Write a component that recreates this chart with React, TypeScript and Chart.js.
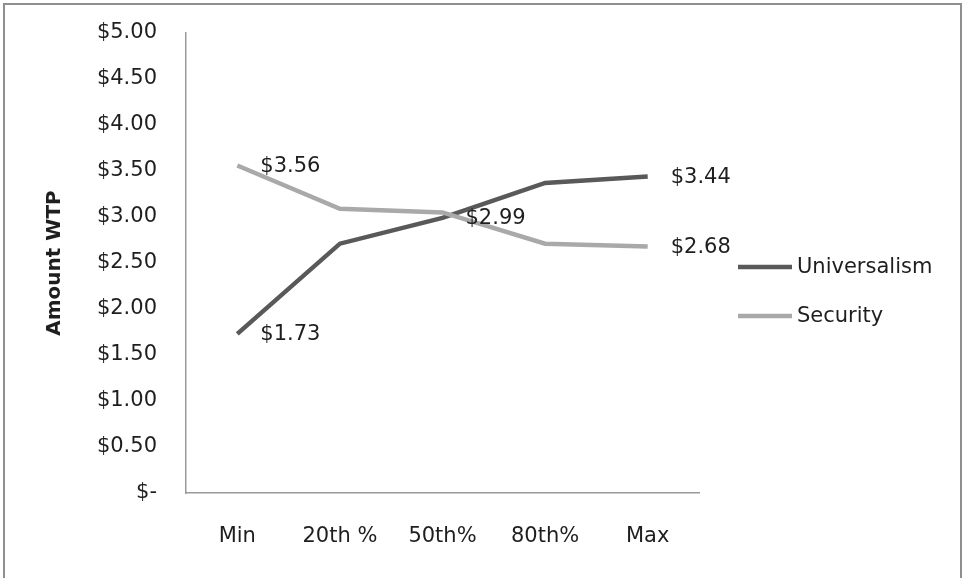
import React, { useEffect, useRef } from "react";
import { Chart, registerables } from "chart.js";

Chart.register(...registerables);

const categories = ["Min", "20th %", "50th%", "80th%", "Max"];
const universalism = [1.73, 2.71, 2.99, 3.37, 3.44];
const security = [3.56, 3.09, 3.05, 2.71, 2.68];
const universalismLabels = ["$1.73", "", "$2.99", "", "$3.44"];
const securityLabels = ["$3.56", "", "", "", "$2.68"];
const yTickLabels = ["$-", "$0.50", "$1.00", "$1.50", "$2.00", "$2.50", "$3.00", "$3.50", "$4.00", "$4.50", "$5.00"];
const seriesNames = ["Universalism", "Security"];

const DARK = "#595959";
const LIGHT = "#a9a9a9";
const TEXT = "#1e1e1e";
const FONT = "'DejaVu Sans', sans-serif";
const SIZE = 21;

const labelPlugin = {
  id: "pointLabels",
  afterDatasetsDraw(chart: any) {
    const ctx = chart.ctx;
    const sets = [universalismLabels, securityLabels];
    ctx.save();
    ctx.font = `${SIZE}px ${FONT}`;
    ctx.fillStyle = TEXT;
    ctx.textAlign = "left";
    ctx.textBaseline = "middle";
    sets.forEach((labels, di) => {
      const meta = chart.getDatasetMeta(di);
      labels.forEach((t, i) => {
        if (!t) return;
        const el = meta.data[i];
        ctx.fillText(t, el.x + 23, el.y + 1);
      });
    });
    ctx.restore();
  },
};

const legendPlugin = {
  id: "customLegend",
  afterDraw(chart: any) {
    const ctx = chart.ctx;
    const area = chart.chartArea;
    const x0 = area.right + 39;
    const colors = [DARK, LIGHT];
    const ys = [267, 316];
    ctx.save();
    seriesNames.forEach((name, i) => {
      ctx.strokeStyle = colors[i];
      ctx.lineWidth = 4.5;
      ctx.lineCap = "butt";
      ctx.beginPath();
      ctx.moveTo(x0, ys[i]);
      ctx.lineTo(x0 + 54, ys[i]);
      ctx.stroke();
      ctx.font = `${SIZE}px ${FONT}`;
      ctx.fillStyle = TEXT;
      ctx.textAlign = "left";
      ctx.textBaseline = "middle";
      ctx.fillText(name, x0 + 59, ys[i] + 1);
    });
    ctx.restore();
  },
};

export default function App() {
  const ref = useRef<HTMLCanvasElement>(null);

  useEffect(() => {
    document.body.style.margin = "0";
    const canvas = ref.current!;
    const chart = new Chart(canvas, {
      type: "line",
      data: {
        labels: categories,
        datasets: [
          {
            label: seriesNames[0],
            data: universalism,
            borderColor: DARK,
            backgroundColor: DARK,
            borderWidth: 4.5,
            pointRadius: 0,
            tension: 0,
            order: 1,
          },
          {
            label: seriesNames[1],
            data: security,
            borderColor: LIGHT,
            backgroundColor: LIGHT,
            borderWidth: 4.5,
            pointRadius: 0,
            tension: 0,
            order: 0,
          },
        ],
      },
      options: {
        responsive: false,
        animation: false,
        devicePixelRatio: 1,
        layout: { padding: { left: 0, top: 33, right: 264, bottom: 0 } },
        plugins: {
          legend: { display: false },
          tooltip: { enabled: false },
        },
        scales: {
          x: {
            offset: true,
            grid: { display: false, drawTicks: false },
            border: { display: true, color: "#999999", width: 1.5 },
            ticks: {
              color: TEXT,
              font: { family: FONT, size: SIZE },
              padding: 31,
              maxRotation: 0,
              autoSkip: false,
            },
            afterFit(scale: any) {
              scale.height = 85;
              scale.paddingLeft = 0;
              scale.paddingRight = 0;
            },
          },
          y: {
            min: 0,
            max: 5,
            grid: { display: false, drawTicks: false },
            border: { display: true, color: "#999999", width: 1.5 },
            ticks: {
              stepSize: 0.5,
              color: TEXT,
              font: { family: FONT, size: SIZE },
              padding: 29,
              callback: (_v: any, i: number) => yTickLabels[i],
            },
            title: {
              display: true,
              text: "Amount WTP",
              color: TEXT,
              font: { family: FONT, size: 20, weight: "bold" },
              padding: { top: 43, bottom: 0 },
            },
            afterFit(scale: any) {
              scale.width = 186;
              scale.paddingTop = 0;
              scale.paddingBottom = 0;
            },
          },
        },
      },
      plugins: [labelPlugin, legendPlugin],
    });
    return () => chart.destroy();
  }, []);

  return (
    <div style={{ position: "fixed", left: 0, top: 0, width: 963, height: 578, overflow: "hidden", background: "#fff" }}>
      <div
        style={{
          position: "absolute",
          left: 3,
          top: 3,
          width: 959,
          height: 620,
          boxSizing: "border-box",
          borderTop: "2px solid #8f8f8f",
          borderLeft: "2px solid #8f8f8f",
          borderRight: "2px solid #8f8f8f",
        }}
      />
      <canvas ref={ref} width={963} height={578} style={{ position: "absolute", left: 0, top: 0, width: 963, height: 578 }} />
    </div>
  );
}
